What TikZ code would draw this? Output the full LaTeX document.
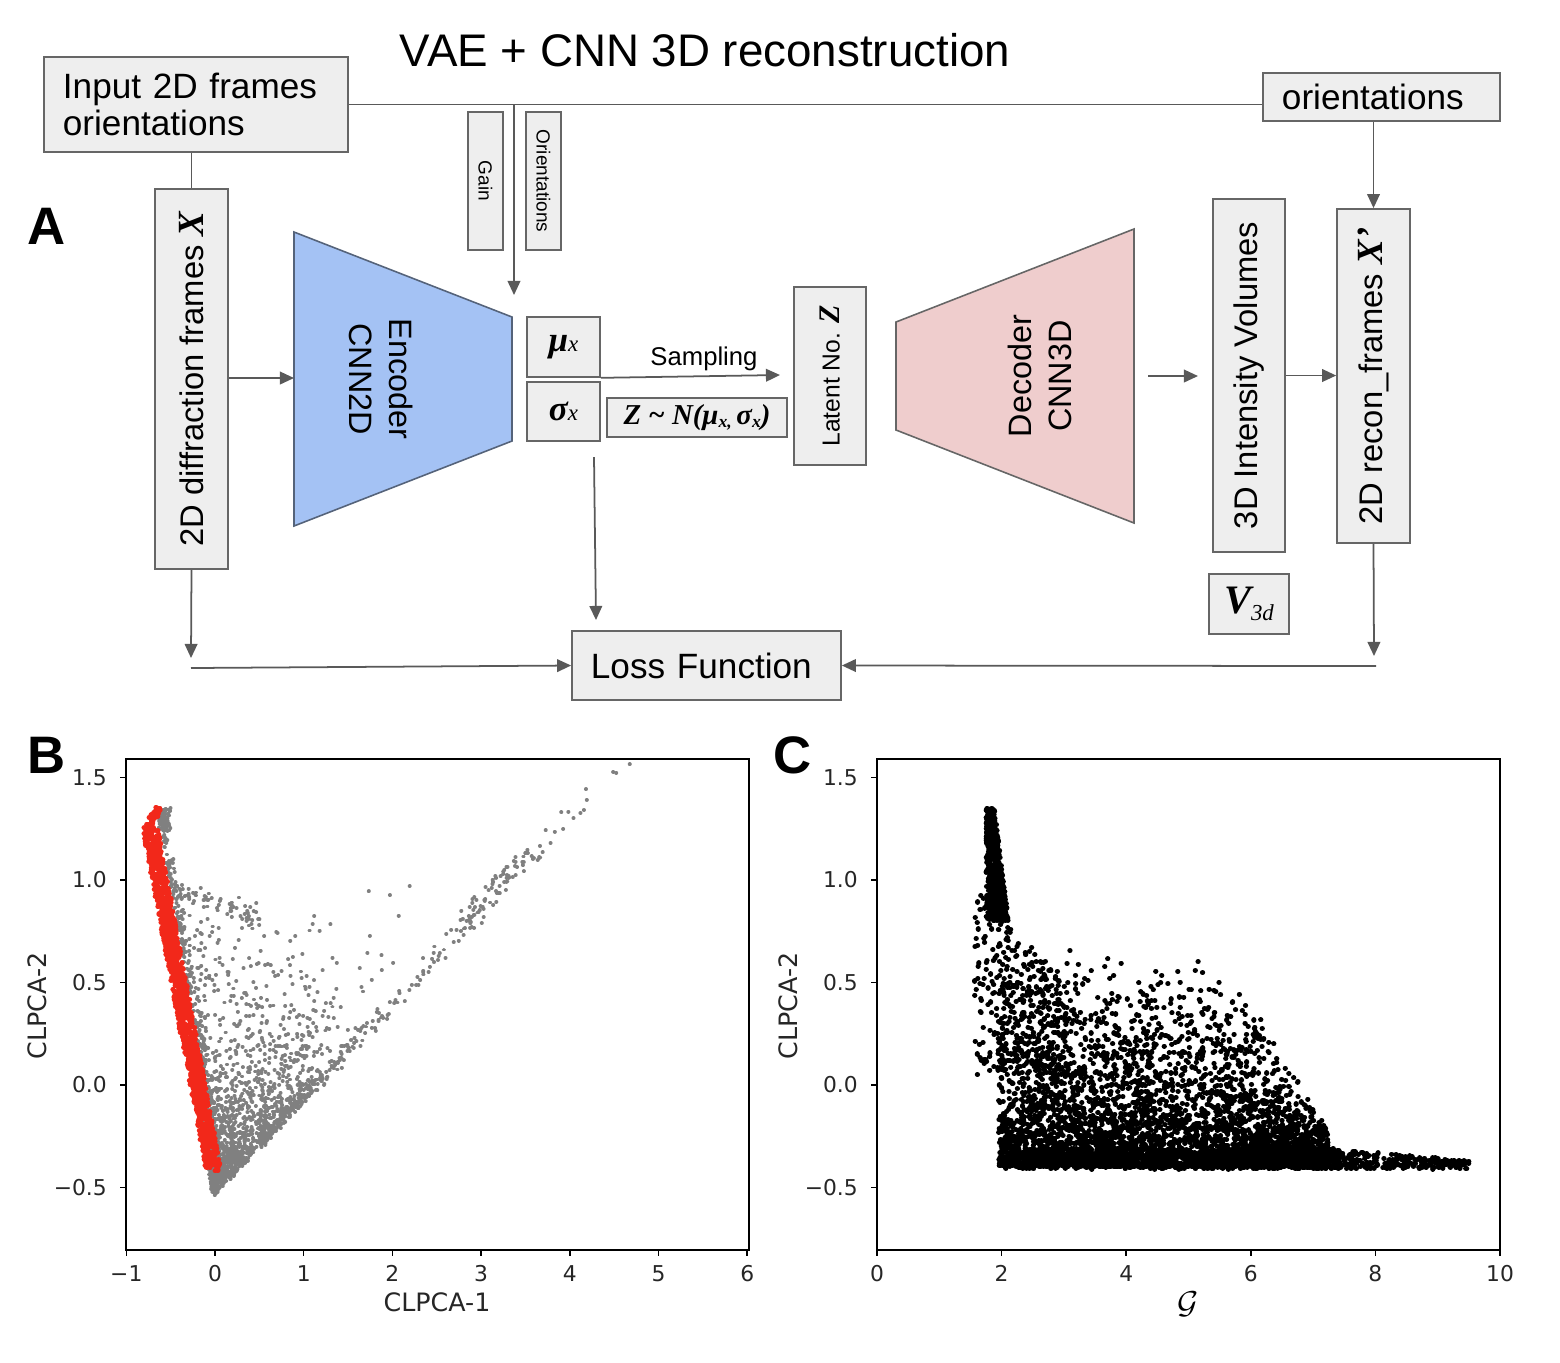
\documentclass[tikz,border=0pt]{standalone}
\usepackage{fontspec}
\setmainfont{Liberation Sans}
\newfontfamily\ser{Liberation Serif}
\newfontfamily\dv{DejaVu Sans}
\usetikzlibrary{arrows.meta}
\definecolor{boxfill}{HTML}{EEEEEE}
\definecolor{boxdraw}{HTML}{666666}
\definecolor{arr}{HTML}{595959}
\definecolor{encfill}{HTML}{A4C2F4}
\definecolor{encdraw}{HTML}{55637A}
\definecolor{decfill}{HTML}{EFCDCD}
\definecolor{decdraw}{HTML}{666666}
\definecolor{redpt}{HTML}{F2281A}
\definecolor{graypt}{HTML}{808080}
\tikzset{
  box/.style={draw=boxdraw, fill=boxfill, line width=0.45pt, inner sep=0pt},
  conn/.style={draw=arr, line width=0.5pt},
  arrow/.style={conn, -{Triangle[length=4pt,width=3.6pt]}},
  axisline/.style={line width=0.45pt, draw=black},
  ticklab/.style={font=\dv\fontsize{6.2}{7}\selectfont, text=black!85, inner sep=1pt},
  axlab/.style={font=\dv\fontsize{7.2}{8}\selectfont, text=black!85},
  panel/.style={font=\bfseries\fontsize{15}{15}\selectfont},
  gdots/.style={draw=graypt, line width=1.1pt, line cap=round},
  rdots/.style={draw=redpt, line width=1.45pt, line cap=round},
  kdots/.style={draw=black, line width=1.45pt, line cap=round},
}
\newcommand{\bisf}{\ser\bfseries\itshape}
\newcommand{\gset}[2]{\pgfmathparse{#2}\xdef#1{\pgfmathresult}}
\begin{document}
\begin{tikzpicture}[x=0.01cm, y=-0.01cm]
\useasboundingbox (0,0) rectangle (1560,1362);

% ---------------- Panel A ----------------
\node[font=\fontsize{13}{14}\selectfont] (title) at (705,50) {VAE + CNN 3D reconstruction};
\node[panel] (labA) at (47,226) {A};

\node[box, minimum width=3.04cm, minimum height=0.95cm, text width=2.66cm, inner xsep=0.19cm, align=left, font=\fontsize{10}{10.3}\selectfont] (inp) at (196,104.5) {Input 2D frames\\orientations};
\node[box, minimum width=2.37cm, minimum height=0.48cm, text width=1.99cm, inner xsep=0.19cm, align=left, font=\fontsize{10}{11}\selectfont] (ori) at (1381.5,97) {orientations};

\node[box, minimum width=0.35cm, minimum height=1.38cm, font=\fontsize{5.4}{6}\selectfont] (gain) at (485.5,181) {\rotatebox{-90}{Gain}};
\node[box, minimum width=0.35cm, minimum height=1.38cm, font=\fontsize{5.4}{6}\selectfont] (oris) at (543.5,181) {\rotatebox{-90}{Orientations}};

\node[box, minimum width=0.73cm, minimum height=3.80cm, font=\fontsize{9.3}{10}\selectfont] (diff) at (191.5,379) {\rotatebox{90}{2D diffraction frames {\bisf\fontsize{10.5}{11}\selectfont X}}};

% encoder
\draw[draw=encdraw, fill=encfill, line width=0.45pt] (294,232) -- (512,317) -- (512,441) -- (294,526) -- cycle;
\node[rotate=-90, align=center, font=\fontsize{9.2}{11.4}\selectfont] (enctext) at (381,379) {Encoder\\CNN2D};
\coordinate (encin) at (294,378);

\node[box, minimum width=0.73cm, minimum height=0.60cm] (mu) at (563.5,347) {{\bisf\fontsize{10}{10}\selectfont μ}{\ser\itshape\fontsize{6.5}{7}\selectfont x}};
\node[box, minimum width=0.73cm, minimum height=0.59cm] (sig) at (563.5,411.5) {{\bisf\fontsize{10}{10}\selectfont σ}{\ser\itshape\fontsize{6.5}{7}\selectfont x}};
\node[box, minimum width=1.80cm, minimum height=0.39cm] (zbox) at (697,417.5) {\bisf\fontsize{8.2}{9}\selectfont Z \textasciitilde{} N(μ\raisebox{-0.25ex}{\fontsize{5}{6}\selectfont x,}\,σ\raisebox{-0.25ex}{\fontsize{5}{6}\selectfont x})};
\node[font=\fontsize{7.3}{8}\selectfont] (samplab) at (704,359) {Sampling};
\coordinate (sampend) at (780,375);

\node[box, minimum width=0.72cm, minimum height=1.78cm, font=\fontsize{7}{8}\selectfont] (lat) at (830,376) {\rotatebox{90}{Latent No. {\bisf\fontsize{8.5}{9}\selectfont Z}}};

% decoder
\draw[draw=decdraw, fill=decfill, line width=0.45pt] (896,322) -- (1134,229) -- (1134,523) -- (896,430) -- cycle;
\node[rotate=90, align=center, font=\fontsize{9.2}{11.4}\selectfont] (dectext) at (1040,376) {Decoder\\CNN3D};
\coordinate (decout) at (1148,376);
\coordinate (volin) at (1198,376);

\node[box, minimum width=0.72cm, minimum height=3.53cm, font=\fontsize{9.3}{10}\selectfont] (vol) at (1249,375.5) {\rotatebox{90}{3D Intensity Volumes}};
\node[box, minimum width=0.73cm, minimum height=3.34cm, font=\fontsize{9.3}{10}\selectfont] (rec) at (1373.5,376) {\rotatebox{90}{2D recon\_frames {\bisf\fontsize{10.5}{11}\selectfont X’}}};
\node[box, minimum width=0.80cm, minimum height=0.60cm] (v3d) at (1249,604) {{\bisf\fontsize{11.5}{12}\selectfont V}\raisebox{-0.35ex}{\ser\itshape\fontsize{6.5}{7}\selectfont 3d}};
\node[box, minimum width=2.69cm, minimum height=0.69cm, text width=2.31cm, inner xsep=0.19cm, align=left, font=\fontsize{10}{11}\selectfont] (loss) at (706.5,665.5) {Loss Function};

% connectors
\coordinate (tap) at (514,104.5);
\coordinate (tapend) at (514,295);
\coordinate (sigtap) at (594,457);
\coordinate (lossin) at (596,620);
\coordinate (dleft) at (191,658);
\coordinate (dleft2) at (191,668);
\coordinate (rdown) at (1374,656);
\coordinate (rright) at (1376,666);

\draw[conn] (inp.east) -- (inp.east -| ori.west);
\draw[arrow] (tap) -- (tapend);
\draw[conn] (diff.north |- inp.south) -- (diff.north);
\draw[arrow] (diff.east |- encin) -- (encin);
\draw[arrow] (mu.south east) -- (sampend);
\draw[arrow] (sigtap) -- (lossin);
\draw[arrow] (diff.south) -- (dleft);
\draw[arrow] (dleft2) -- (loss.west);
\draw[arrow] (decout) -- (volin);
\draw[arrow] (vol.east) -- (vol.east -| rec.west);
\draw[arrow] (rec.north |- ori.south) -- (rec.north);
\draw[arrow] (rec.south) -- (rdown);
\draw[arrow] (rright) -- (loss.east);

% ---------------- Panel B ----------------
\node[panel] (labB) at (47,755) {B};
\pgfmathsetseed{4242}
\begin{scope}
\clip (126,759) rectangle (749,1250);
\begin{scope}[shift={(215,1085)}, x=0.887cm, y=2.05cm]
  % dense wedge at bottom vertex
  \draw[gdots] foreach \i in {1,...,1100}{
    \pgfextra{\gset\ptu{0.33*rnd*rnd}\gset\ptv{0.42*rnd*rnd}%
      \gset\ptx{-0.02+\ptu*(-0.72)+\ptv*3.57+0.02*rand}%
      \gset\pty{-0.53+\ptu*1.8+\ptv*1.59+0.02*rand}}
    (\ptx,\pty) -- ++(0.002,0) };
  % diagonal band
  \draw[gdots] foreach \i in {1,...,280}{
    \pgfextra{\gset\ptv{0.15+1.32*rnd*rnd}%
      \gset\ptx{-0.02+\ptv*3.57+0.04*rand}%
      \gset\pty{-0.53+\ptv*1.59+0.13*rnd*rnd+0.02*rand}}
    (\ptx,\pty) -- ++(0.002,0) };
  % streaks near the upper end of the band
  \draw[gdots] foreach \i in {1,...,60}{
    \pgfextra{\gset\ptv{0.78+0.22*rnd}%
      \gset\ptx{-0.02+\ptv*3.57+0.02*rand}%
      \gset\pty{-0.53+\ptv*1.59+0.03+0.1*rnd}}
    (\ptx,\pty) -- ++(0.002,0) };
  % sparse triangle fill
  \draw[gdots] foreach \i in {1,...,320}{
    \pgfextra{\gset\ptu{sqrt(rnd)}\gset\ptv{rnd*(0.4+0.6*rnd)}%
      \gset\ptx{(1-\ptu)*(-0.55)+\ptu*\ptv*2.3}%
      \gset\pty{(1-\ptu)*1.02+\ptu*(1-\ptv)*(-0.35)+\ptu*\ptv*0.72}}
    (\ptx,\pty) -- ++(0.002,0) };
  % upper edge of the sparse region
  \draw[gdots] foreach \i in {1,...,60}{
    \pgfextra{\gset\ptx{-0.5+1.0*rnd}\gset\pty{1.0-0.15*(\ptx+0.5)-0.08*rnd}}
    (\ptx,\pty) -- ++(0.002,0) };
  % few outliers
  \draw[gdots] foreach \i in {1,...,12}{
    \pgfextra{\gset\ptx{1.0+2.0*rnd}\gset\pty{0.4+0.6*rnd}}
    (\ptx,\pty) -- ++(0.002,0) };
  % hugging red line
  \draw[gdots] foreach \i in {1,...,240}{
    \pgfextra{\gset\ptt{rnd}%
      \gset\ptx{-0.68+0.70*\ptt+0.06+0.14*rnd*rnd}%
      \gset\pty{1.25-1.69*\ptt+0.02*rand}}
    (\ptx,\pty) -- ++(0.002,0) };
  % top hook
  \draw[gdots] foreach \i in {1,...,60}{
    \pgfextra{\gset\ptx{-0.64+0.14*rnd}\gset\pty{1.24+0.11*rnd}}
    (\ptx,\pty) -- ++(0.002,0) };
  % red band
  \draw[rdots] foreach \i in {1,...,1400}{
    \pgfextra{\gset\ptt{rnd}%
      \gset\ptx{-0.73+0.71*\ptt+0.085*rand}%
      \gset\pty{1.25-1.66*\ptt+0.015*rand}}
    (\ptx,\pty) -- ++(0.002,0) };
  \draw[rdots] foreach \i in {1,...,60}{
    \pgfextra{\gset\ptu{rnd}%
      \gset\ptx{-0.76+0.13*\ptu+0.03*rand}%
      \gset\pty{1.22+0.12*sqrt(\ptu)+0.02*rand}}
    (\ptx,\pty) -- ++(0.002,0) };
\end{scope}
\end{scope}
\draw[axisline] (126,759) rectangle (749,1250);
\foreach \v/\lab [count=\k] in {-1/−1,0/0,1/1,2/2,3/3,4/4,5/5,6/6}{
  \draw[axisline] (215+88.7*\v,1250) -- (215+88.7*\v,1256);
  \node[ticklab, anchor=north] (bxt\k) at (215+88.7*\v,1261) {\lab};
}
\foreach \v/\lab [count=\k] in {-0.5/−0.5,0/0.0,0.5/0.5,1/1.0,1.5/1.5}{
  \draw[axisline] (126,1085-205*\v) -- (120,1085-205*\v);
  \node[ticklab, anchor=east] (byt\k) at (111,1085-205*\v) {\lab};
}
\node[axlab] (bxl) at (437,1302) {CLPCA-1};
\node[axlab, rotate=90] (byl) at (37,1006) {CLPCA-2};

% ---------------- Panel C ----------------
\node[panel] (labC) at (793,755) {C};
\begin{scope}
\clip (877,759) rectangle (1500,1250);
\begin{scope}[shift={(877,1085)}, x=0.623cm, y=2.05cm]
  % column
  \draw[kdots] foreach \i in {1,...,450}{
    \pgfextra{\gset\pty{0.8+0.55*rnd}\gset\ptx{1.75+(0.36-0.42*(\pty-0.8))*rnd}}
    (\ptx,\pty) -- ++(0.003,0) };
  % upper-left spray
  \draw[kdots] foreach \i in {1,...,320}{
    \pgfextra{\gset\ptx{1.55+1.5*rnd}\gset\pty{0.05+(0.95-0.35*(\ptx-1.55))*rnd}}
    (\ptx,\pty) -- ++(0.003,0) };
  % main cloud
  \draw[kdots] foreach \i in {1,...,3800}{
    \pgfextra{\gset\ptx{1.95+5.3*rnd}%
      \gset\pty{-0.4+min(1.15-0.04*(\ptx-1.95),1.1-0.5*(\ptx-5.5))*rnd*rnd}}
    (\ptx,\pty) -- ++(0.003,0) };
  % floor
  \draw[kdots] foreach \i in {1,...,900}{
    \pgfextra{\gset\ptx{2.05+5.4*rnd}\gset\pty{-0.41+0.1*rnd}}
    (\ptx,\pty) -- ++(0.003,0) };
  % tail
  \draw[kdots] foreach \i in {1,...,330}{
    \pgfextra{\gset\ptx{6+3.5*rnd}\gset\pty{-0.41+(0.13-0.025*(\ptx-6))*rnd}}
    (\ptx,\pty) -- ++(0.003,0) };
\end{scope}
\end{scope}
\draw[axisline] (877,759) rectangle (1500,1250);
\foreach \v [count=\k] in {0,2,4,6,8,10}{
  \draw[axisline] (877+62.3*\v,1250) -- (877+62.3*\v,1256);
  \node[ticklab, anchor=north] (cxt\k) at (877+62.3*\v,1261) {\v};
}
\foreach \v/\lab [count=\k] in {-0.5/−0.5,0/0.0,0.5/0.5,1/1.0,1.5/1.5}{
  \draw[axisline] (877,1085-205*\v) -- (871,1085-205*\v);
  \node[ticklab, anchor=east] (cyt\k) at (862,1085-205*\v) {\lab};
}
\node[font=\fontsize{9}{9}\selectfont] (cxl) at (1188,1304) {$\mathcal{G}$};
\node[axlab, rotate=90] (cyl) at (788,1006) {CLPCA-2};
\end{tikzpicture}
\end{document}
